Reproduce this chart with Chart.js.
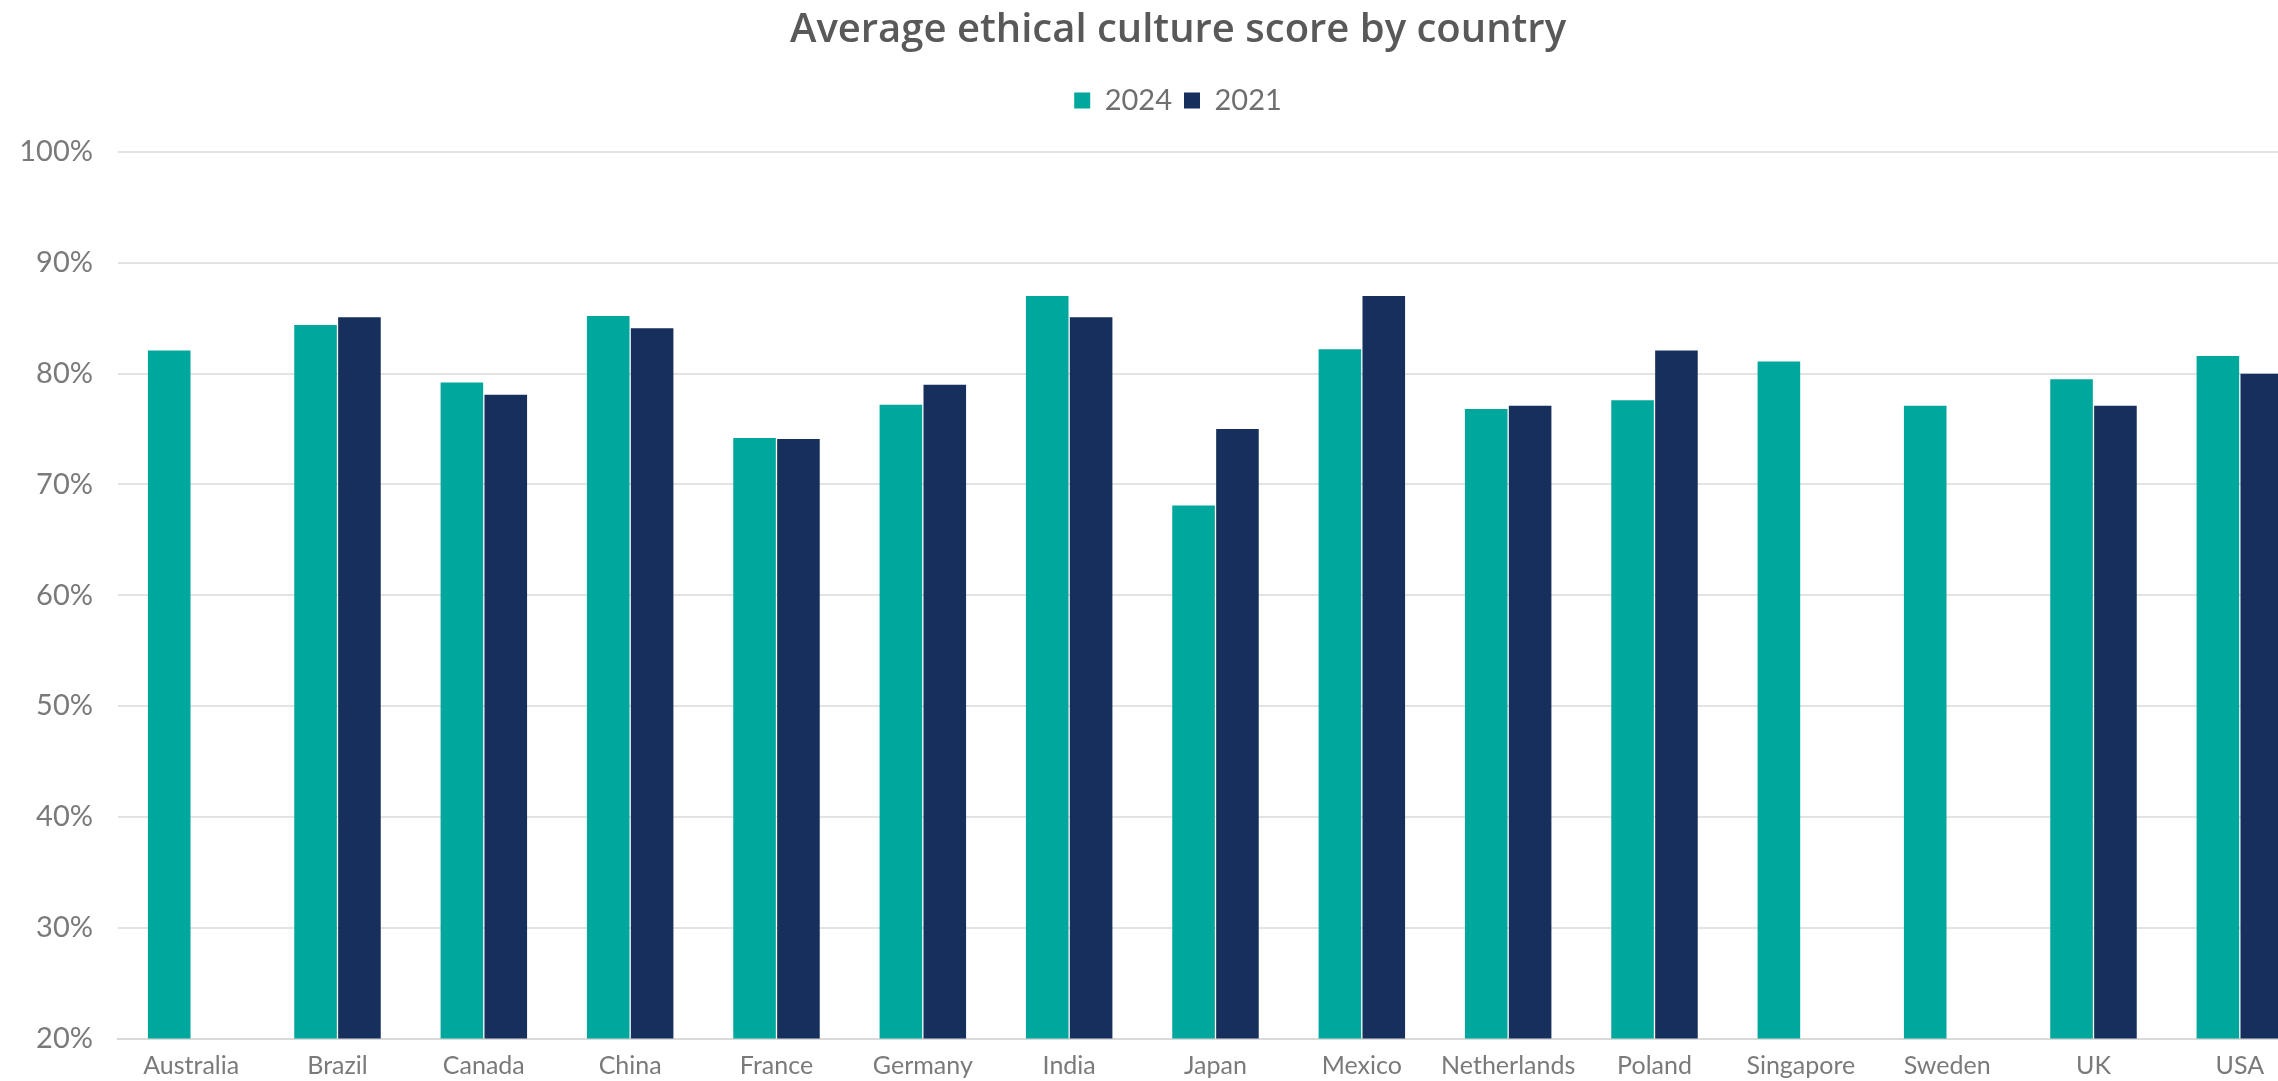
<!DOCTYPE html>
<html>
<head>
<meta charset="utf-8">
<script src="https://cdn.jsdelivr.net/npm/chart.js@4.4.1/dist/chart.umd.min.js"></script>
<style>
  html, body { margin: 0; padding: 0; background: #ffffff; overflow: hidden; }
  #wrap { width: 2356px; height: 1081px; }
</style>
</head>
<body>
<div id="wrap"><canvas id="chart" width="2356" height="1081"></canvas></div>
<script>
// Average ethical culture score by country (values in %)
const countries = ['Australia', 'Brazil', 'Canada', 'China', 'France', 'Germany', 'India', 'Japan',
    'Mexico', 'Netherlands', 'Poland', 'Singapore', 'Sweden', 'UK', 'USA'];
const scores2024 = [82.1, 84.4, 79.2, 85.2, 74.2, 77.2, 87.0, 68.1, 82.2, 76.8, 77.6, 81.1, 77.1, 79.5, 81.6];
const scores2021 = [null, 85.1, 78.1, 84.1, 74.1, 79.0, 85.1, 75.0, 87.0, 77.1, 82.1, null, null, 77.1, 80.0];
const yTicks = [20, 30, 40, 50, 60, 70, 80, 90, 100];

const FONT = 'Lato, "Open Sans", sans-serif';
const TEAL = '#00a79c';
const NAVY = '#172f5c';
const RIGHT_PAD = 43;

// push the plot area down below the legend
const legendGap = {
    id: 'legendGap',
    beforeInit(chart) {
        const fit = chart.legend.fit;
        chart.legend.fit = function() {
            fit.bind(chart.legend)();
            this.height += 27;
        };
    },
    // center title + legend on the whole canvas, not the padded area
    afterLayout(chart) {
        const shift = RIGHT_PAD / 2;
        [chart.titleBlock, chart.legend].forEach(b => {
            if (!b) return;
            b.left += shift;
            b.right += shift;
        });
    }
};

const ctx = document.getElementById('chart').getContext('2d');
new Chart(ctx, {
    type: 'bar',
    data: {
        labels: countries,
        datasets: [
            { label: '2024', data: scores2024, backgroundColor: TEAL },
            { label: '2021', data: scores2021, backgroundColor: NAVY }
        ]
    },
    options: {
        responsive: false,
        animation: false,
        devicePixelRatio: 1,
        layout: { padding: { left: 0, right: RIGHT_PAD, top: 0, bottom: 0 } },
        datasets: {
            bar: { categoryPercentage: 0.6, barPercentage: 0.97 }
        },
        plugins: {
            title: {
                display: true,
                text: 'Average ethical culture score by country',
                color: '#595959',
                font: { family: '"Open Sans", Lato, sans-serif', size: 40, weight: '600' },
                padding: { top: 7, bottom: 19 }
            },
            legend: {
                display: true,
                position: 'top',
                labels: {
                    color: '#6f6f6f',
                    font: { family: FONT, size: 29 },
                    boxWidth: 16,
                    boxHeight: 16,
                    padding: 12
                }
            },
            tooltip: { enabled: false }
        },
        scales: {
            x: {
                grid: { display: false, drawTicks: false },
                border: { display: true, color: '#d9d9d9', width: 2 },
                ticks: {
                    color: '#7a7a7a',
                    font: { family: FONT, size: 25 },
                    padding: 12
                },
                afterFit(scale) { scale.height = 42; }
            },
            y: {
                min: 20,
                max: 100,
                afterBuildTicks(scale) {
                    scale.ticks = yTicks.map(v => ({ value: v }));
                },
                grid: { color: '#e3e3e3', lineWidth: 2, drawTicks: false },
                border: { display: false },
                ticks: {
                    color: '#7a7a7a',
                    font: { family: FONT, size: 29 },
                    padding: 25,
                    callback: v => v + '%'
                },
                afterFit(scale) { scale.width = 118; }
            }
        }
    },
    plugins: [legendGap]
});
</script>
</body>
</html>
